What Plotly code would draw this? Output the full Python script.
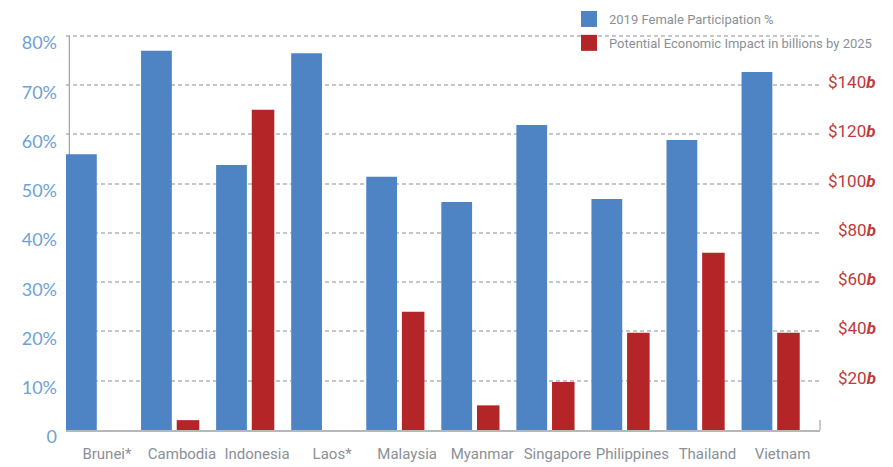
import plotly.graph_objects as go

# ---------------- data ----------------
countries = ["Brunei*", "Cambodia", "Indonesia", "Laos*", "Malaysia",
             "Myanmar", "Singapore", "Philippines", "Thailand", "Vietnam"]
female_participation = [56.0, 77.0, 53.8, 76.5, 51.4, 46.3, 61.9, 46.9, 58.9, 72.7]
economic_impact = [None, 4, 130, None, 48, 10, 19.5, 39.5, 72, 39.5]

left_tick_vals = [0, 10, 20, 30, 40, 50, 60, 70, 80]
left_tick_text = ["0", "10%", "20%", "30%", "40%", "50%", "60%", "70%", "80%"]
right_tick_vals = [20, 40, 60, 80, 100, 120, 140]
right_tick_text = ["$20", "$40", "$60", "$80", "$100", "$120", "$140"]

series_names = ["2019 Female Participation %",
                "Potential Economic Impact in billions by 2025"]

# ---------------- style ----------------
BLUE = "#4f84c4"
RED = "#b42528"
GRAY_TXT = "#8a9097"
LEFT_TXT = "#6f9fd8"
RIGHT_TXT = "#c0393b"
GRID = "#c3c7cb"
NARROW = "Roboto, Liberation Sans, sans-serif"

# page body adds an 8px offset, so the figure is slightly smaller
W, H = 885, 459
ML, MR, MT, MB = 58, 73, 25, 37
plot_w = W - ML - MR
plot_h = H - MT - MB

fig = go.Figure()

fig.add_trace(go.Bar(
    x=countries, y=female_participation, name=series_names[0],
    marker=dict(color=BLUE, line=dict(width=0)),
    offset=-0.545, width=0.41, yaxis="y", showlegend=False,
))
fig.add_trace(go.Bar(
    x=countries, y=economic_impact, name=series_names[1],
    marker=dict(color=RED, line=dict(width=0)),
    offset=-0.07, width=0.3, yaxis="y2", showlegend=False,
))

# legend entries (square swatches)
for i, (name, col) in enumerate(zip(series_names, [BLUE, RED])):
    fig.add_trace(go.Scatter(
        x=[None], y=[None], mode="markers", name=name, legendgroup=f"g{i}",
        marker=dict(symbol="square", size=16, color=col),
        showlegend=True,
    ))

shapes = [
    # left axis line
    dict(type="line", xref="x", yref="y", x0=-0.5, x1=-0.5, y0=0, y1=80,
         line=dict(color="#a4a8ac", width=1.3), layer="between"),
    # mask the top grid line under the legend
    dict(type="rect", xref="paper", yref="y", x0=(531 - ML) / plot_w, x1=1.0,
         y0=79, y1=81, fillcolor="white", line=dict(width=0), layer="between"),
    # small right tick
    dict(type="line", xref="paper", yref="paper", x0=1, x1=1,
         ysizemode="pixel", yanchor=0, y0=0, y1=10,
         line=dict(color="#b4b8bc", width=1.5)),
]

annotations = []
for v, t in zip(right_tick_vals, right_tick_text):
    annotations.append(dict(
        x=(870 - ML) / plot_w, xref="paper", y=v, yref="y2",
        xanchor="right", yanchor="middle", yshift=3, showarrow=False,
        text=t + "<b><i>b</i></b>",
        font=dict(family=NARROW, size=17, color=RIGHT_TXT),
    ))

fig.update_layout(
    width=W, height=H,
    margin=dict(l=ML, r=MR, t=MT, b=MB, autoexpand=False),
    paper_bgcolor="white", plot_bgcolor="white",
    barmode="overlay",
    showlegend=True,
    legend=dict(
        x=(561 - ML) / plot_w, y=1 + (MT + 4) / plot_h,
        xanchor="left", yanchor="top",
        bgcolor="rgba(255,255,255,0)",
        font=dict(family=NARROW, size=13, color=GRAY_TXT),
        traceorder="grouped", tracegroupgap=4,
        itemclick=False, itemdoubleclick=False,
    ),
    xaxis=dict(
        range=[-0.545, 9.5], showgrid=False, zeroline=False,
        showline=True, linecolor="#b4b8bc", linewidth=1.5,
        ticks="", tickangle=0,
        tickfont=dict(family=NARROW, size=15, color=GRAY_TXT),
        ticklabelstandoff=9, fixedrange=True,
    ),
    yaxis=dict(
        range=[0, 80.6], tickvals=left_tick_vals, ticktext=left_tick_text,
        showgrid=True, gridcolor=GRID, gridwidth=1.5, griddash="4px,3px",
        zeroline=False, showline=False, ticks="",
        tickfont=dict(family="Lato, Open Sans, sans-serif", size=18, color=LEFT_TXT),
        ticklabelshift=7, ticklabelstandoff=8, fixedrange=True,
    ),
    yaxis2=dict(
        range=[0, 161.2], overlaying="y", side="right",
        showgrid=False, zeroline=False, showline=False,
        showticklabels=False, ticks="", fixedrange=True,
    ),
    shapes=shapes,
    annotations=annotations,
)

fig.write_html("out.html")
